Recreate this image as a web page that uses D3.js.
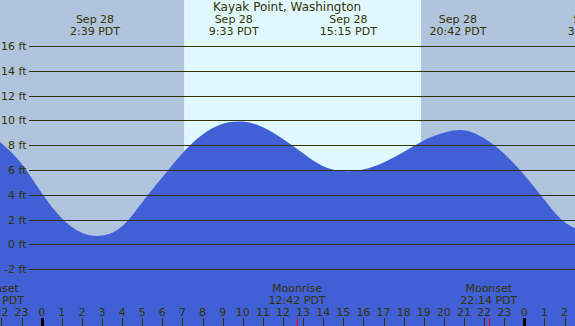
<!DOCTYPE html>
<html>
<head>
<meta charset="utf-8">
<script src="https://cdn.jsdelivr.net/npm/d3@7"></script>
<style>
  body { margin: 0; }
  svg { display: block; font-family: "DejaVu Sans", sans-serif; }
</style>
</head>
<body>
<div id="vis"></div>
<script>
// frame
const FRAME_WIDTH = 575
const FRAME_HEIGHT = 326

const tideHours = [-3, -2, -1, 0, 1, 2, 3, 4, 5, 6, 7, 8, 9, 10, 11, 12, 13, 14, 15,
                   16, 17, 18, 19, 20, 21, 22, 23, 24, 25, 26, 27, 28]
const tideFeet = [9.55, 8.15, 6.5, 4.13, 2.1, 0.93, 0.7, 1.45, 3.4, 5.4, 7.35, 8.85, 9.72, 9.9, 9.45, 8.5,
                  7.35, 6.3, 5.91, 6.03, 6.6, 7.45, 8.38, 9.0, 9.2, 8.55, 7.3, 5.6, 3.6, 1.8, 1.1, 0.95]

// high / low tide labels
const tideEventHours = [2.65, 9.55, 15.25, 20.7, 27.4]
const tideEventDays = ["Sep 28", "Sep 28", "Sep 28", "Sep 28", "Sep 29"]
const tideEventTimes = ["2:39 PDT", "9:33 PDT", "15:15 PDT", "20:42 PDT", "3:24 PDT"]

// moon
const moonHours = [-2.3, 12.7, 22.233]
const moonNames = ["Moonset", "Moonrise", "Moonset"]
const moonTimes = ["21:42 PDT", "12:42 PDT", "22:14 PDT"]

// sunrise / sunset
const sunHours = [7.083, 18.867]

// gridlines
const feetTicks = [-2, 0, 2, 4, 6, 8, 10, 12, 14, 16]
const hourTicks = d3.range(-2, 27)

const TEXT_COLOR = "#333300"

const x = d3.scaleLinear()
            .domain([0, 24])
            .range([41.7, 524.3])

const y = d3.scaleLinear()
            .domain([0, 16])
            .range([244.3, 46])

const svg = d3.select("#vis")
              .append("svg")
              .attr("width", FRAME_WIDTH)
              .attr("height", FRAME_HEIGHT)

// night background
svg.append("rect")
   .attr("x", 0).attr("y", 0)
   .attr("width", FRAME_WIDTH).attr("height", FRAME_HEIGHT)
   .attr("fill", "#b0c4de")

// daylight
svg.append("rect")
   .attr("x", x(sunHours[0]))
   .attr("y", 0)
   .attr("width", x(sunHours[1]) - x(sunHours[0]))
   .attr("height", FRAME_HEIGHT)
   .attr("fill", "#e0f8ff")

// tide area
const tideData = tideHours.map((h, i) => ({h: h, ft: tideFeet[i]}))
const area = d3.area()
               .x(d => x(d.h))
               .y0(FRAME_HEIGHT)
               .y1(d => y(d.ft))
               .curve(d3.curveNatural)

svg.append("path")
   .datum(tideData)
   .attr("d", area)
   .attr("fill", "#4160d6")

// horizontal lines + labels
svg.selectAll(".grid")
   .data(feetTicks)
   .enter()
   .append("line")
     .attr("x1", 29)
     .attr("x2", FRAME_WIDTH)
     .attr("y1", d => Math.round(y(d)) + 0.5)
     .attr("y2", d => Math.round(y(d)) + 0.5)
     .attr("stroke", TEXT_COLOR)
     .attr("stroke-width", 1)

svg.selectAll(".ftlabel")
   .data(feetTicks)
   .enter()
   .append("text")
     .attr("x", 26.5)
     .attr("y", d => y(d) + 4)
     .attr("text-anchor", "end")
     .attr("font-size", "11px")
     .attr("fill", TEXT_COLOR)
     .text(d => d + " ft")

// title
svg.append("text")
   .attr("x", 287)
   .attr("y", 11)
   .attr("text-anchor", "middle")
   .attr("font-size", "12px")
   .attr("fill", TEXT_COLOR)
   .text("Kayak Point, Washington")

// tide event labels
const tideLabels = svg.selectAll(".tide")
   .data(tideEventHours)
   .enter()
   .append("g")
     .attr("transform", d => "translate(" + x(d) + ",0)")

tideLabels.append("text")
   .attr("y", 23)
   .attr("text-anchor", "middle")
   .attr("font-size", "11px")
   .attr("fill", TEXT_COLOR)
   .text((d, i) => tideEventDays[i])

tideLabels.append("text")
   .attr("y", 35)
   .attr("text-anchor", "middle")
   .attr("font-size", "11px")
   .attr("fill", TEXT_COLOR)
   .text((d, i) => tideEventTimes[i])

// moon labels
const moonLabels = svg.selectAll(".moon")
   .data(moonHours)
   .enter()
   .append("g")
     .attr("transform", d => "translate(" + x(d) + ",0)")

moonLabels.append("text")
   .attr("y", 292)
   .attr("text-anchor", "middle")
   .attr("font-size", "11px")
   .attr("fill", TEXT_COLOR)
   .text((d, i) => moonNames[i])

moonLabels.append("text")
   .attr("y", 304)
   .attr("text-anchor", "middle")
   .attr("font-size", "11px")
   .attr("fill", TEXT_COLOR)
   .text((d, i) => moonTimes[i])

// hour labels
svg.selectAll(".hour")
   .data(hourTicks)
   .enter()
   .append("text")
     .attr("x", d => x(d))
     .attr("y", 316)
     .attr("text-anchor", "middle")
     .attr("font-size", "11px")
     .attr("fill", TEXT_COLOR)
     .text(d => ((d % 24) + 24) % 24)

// hour ticks, midnight thicker
svg.selectAll(".htick")
   .data(hourTicks)
   .enter()
   .append("line")
     .attr("x1", d => Math.round(x(d)) + 0.5)
     .attr("x2", d => Math.round(x(d)) + 0.5)
     .attr("y1", 318)
     .attr("y2", FRAME_HEIGHT)
     .attr("stroke", d => d % 24 === 0 ? "#000000" : TEXT_COLOR)
     .attr("stroke-width", d => d % 24 === 0 ? 3 : 1)

// moon ticks
svg.selectAll(".mtick")
   .data(moonHours)
   .enter()
   .append("line")
     .attr("x1", d => Math.round(x(d)) + 0.5)
     .attr("x2", d => Math.round(x(d)) + 0.5)
     .attr("y1", 318)
     .attr("y2", FRAME_HEIGHT)
     .attr("stroke", "#ff0000")
     .attr("stroke-width", 1)
</script>
</body>
</html>
